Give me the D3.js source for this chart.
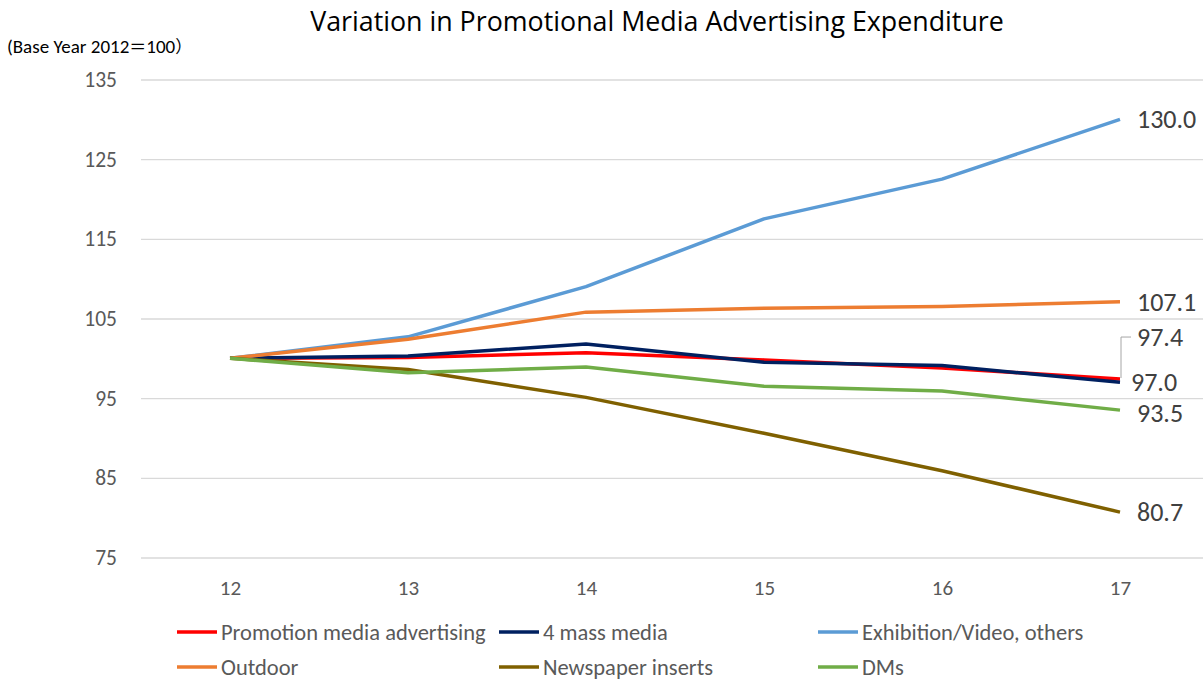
<!DOCTYPE html>
<html>
<head>
<meta charset="utf-8">
<script src="https://cdn.jsdelivr.net/npm/d3@7"></script>
<style>
  body { margin: 0; background: #fff; }
  svg text { font-family: Carlito, "Open Sans", sans-serif; }
</style>
</head>
<body>
<script>
// chart data
const years = ["12", "13", "14", "15", "16", "17"];
const seriesNames = ["Promotion media advertising", "4 mass media", "Exhibition/Video, others", "Outdoor", "Newspaper inserts", "DMs"];
const promotion = [100, 100.1, 100.7, 99.8, 98.8, 97.4];
const massMedia = [100, 100.3, 101.8, 99.5, 99.1, 97.0];
const exhibition = [100, 102.7, 109.0, 117.5, 122.5, 130.0];
const outdoor = [100, 102.4, 105.8, 106.3, 106.5, 107.1];
const newspaper = [100, 98.6, 95.1, 90.6, 85.9, 80.7];
const dms = [100, 98.2, 98.9, 96.5, 95.9, 93.5];
const yTicks = [75, 85, 95, 105, 115, 125, 135];

const colors = ["#ff0000", "#002060", "#5b9bd5", "#ed7d31", "#7f6000", "#70ad47"];
const allValues = [promotion, massMedia, exhibition, outdoor, newspaper, dms];

const series = seriesNames.map((name, i) => ({
    name: name,
    color: colors[i],
    values: allValues[i]
}));

const width = 1203;
const height = 682;

const svg = d3.select("body")
    .append("svg")
        .attr("width", width)
        .attr("height", height);

const x = d3.scalePoint()
    .domain(years)
    .range([141, 1209])
    .padding(0.5);

const y = d3.scaleLinear()
    .domain([75, 135])
    .range([557.5, 79.5]);

// title
svg.append("text")
    .attr("x", 657)
    .attr("y", 31)
    .attr("text-anchor", "middle")
    .attr("font-size", "26.8px")
    .style("font-family", "'Open Sans', sans-serif")
    .style("fill", "#000")
    .text("Variation in Promotional Media Advertising Expenditure");

const sub = svg.append("text")
    .attr("x", 7)
    .attr("y", 53)
    .attr("font-size", "19px")
    .style("fill", "#000");
sub.append("tspan").text("(Base Year 2012");
sub.append("tspan").style("font-family", "'Noto Sans CJK JP'").attr("font-size", "17px").text("\uff1d");
sub.append("tspan").text("100");
sub.append("tspan").style("font-family", "'Noto Sans CJK JP'").attr("font-size", "17px").text("\uff09");

// gridlines
const leftAxis = d3.axisLeft(y)
    .tickValues(yTicks)
    .tickSize(-(width - 141))
    .tickPadding(24);

const gy = svg.append("g")
    .attr("class", "left axis")
    .attr("transform", "translate(141,0)")
    .call(leftAxis);

gy.select(".domain").remove();
gy.selectAll("line")
    .attr("stroke", "#d9d9d9")
    .attr("stroke-width", 1.3);
gy.selectAll("text")
    .attr("font-size", "21.5px")
    .style("fill", "#595959");

const bottomAxis = d3.axisBottom(x)
    .tickSize(0)
    .tickPadding(0);

const gx = svg.append("g")
    .attr("class", "bottom axis")
    .attr("transform", "translate(0,595)")
    .call(bottomAxis);

gx.select(".domain").remove();
gx.selectAll("text")
    .attr("font-size", "21px")
    .attr("y", 0)
    .attr("dy", 0)
    .style("fill", "#595959");

// lines
const line = d3.line()
    .x((d, i) => x(years[i]))
    .y(d => y(d));

svg.selectAll(".series")
    .data(series)
    .enter()
    .append("path")
        .attr("class", "series")
        .attr("d", d => line(d.values))
        .attr("fill", "none")
        .attr("stroke", d => d.color)
        .attr("stroke-width", 3.5)
        .attr("stroke-linejoin", "round");

// end labels
const last = years[years.length - 1];
series.forEach((s, i) => {
    const v = s.values[s.values.length - 1];
    let ly = y(v);
    if (i === 0) {
        ly = y(v) - 42;
        svg.append("path")
            .attr("d", "M" + (x(last) + 1) + "," + (y(v) - 1) + "V" + ly + "H" + (x(last) + 11))
            .attr("fill", "none")
            .attr("stroke", "#a6a6a6")
            .attr("stroke-width", 1);
    }
    if (i === 5) ly += 3;
    svg.append("text")
        .attr("x", x(last) + (i === 1 ? 11 : 17))
        .attr("y", ly)
        .attr("dy", "0.35em")
        .attr("font-size", "26px")
        .style("fill", "#404040")
        .text(v.toFixed(1));
});

// legend
const legendX = [177, 499, 818];
const legendY = [632, 667];

const legend = svg.selectAll(".legend")
    .data(series)
    .enter()
    .append("g")
        .attr("class", "legend")
        .attr("transform", (d, i) => "translate(" + legendX[i % 3] + "," + legendY[Math.floor(i / 3)] + ")");

legend.append("line")
    .attr("x1", 0)
    .attr("x2", 40)
    .attr("stroke", d => d.color)
    .attr("stroke-width", 3.5);

legend.append("text")
    .attr("x", 44)
    .attr("dy", "0.35em")
    .attr("font-size", "22.5px")
    .style("fill", "#595959")
    .text(d => d.name);
</script>
</body>
</html>
